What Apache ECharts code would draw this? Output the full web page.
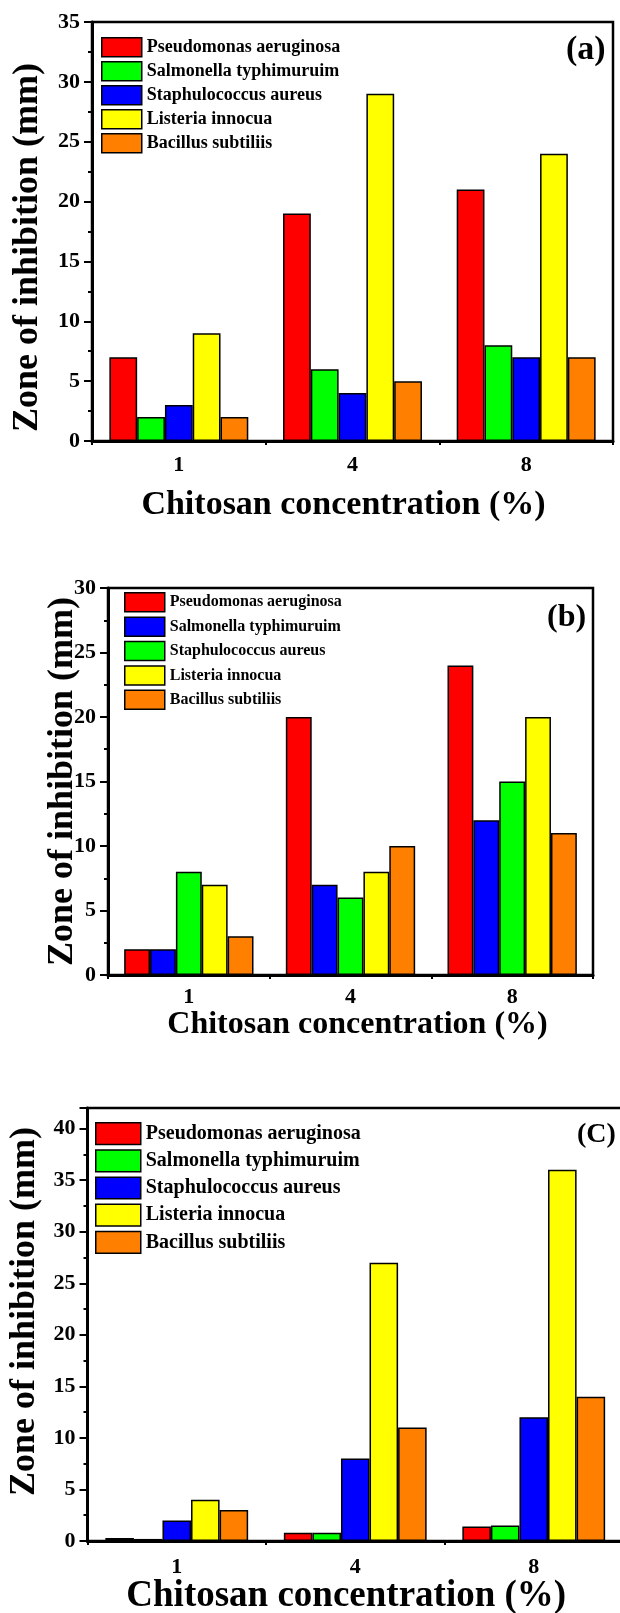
<!DOCTYPE html>
<html><head><meta charset="utf-8">
<script src="https://cdn.jsdelivr.net/npm/echarts@6/dist/echarts.min.js"></script>
<style>
body{margin:0;background:#fff;width:620px;height:1613px;position:relative;overflow:hidden}
.p{position:absolute;left:0;width:620px}
</style></head>
<body>
<div id="pa" class="p" style="top:0;height:540px"></div>
<div id="pb" class="p" style="top:540px;height:520px"></div>
<div id="pc" class="p" style="top:1060px;height:553px"></div>
<script>
// ---------- data ----------
const categories = ['1', '4', '8'];
const xTitle = 'Chitosan concentration (%)';
const yTitle = 'Zone of inhibition (mm)';
const RED = '#FF0000', GREEN = '#00FF00', BLUE = '#0000FF', YELLOW = '#FFFF00', ORANGE = '#FF8000';

// panel (a)
const namesA = ['Pseudomonas aeruginosa', 'Salmonella typhimuruim', 'Staphulococcus aureus', 'Listeria innocua', 'Bacillus subtiliis'];
const colorsA = [RED, GREEN, BLUE, YELLOW, ORANGE];
const a_Pseudomonas = [7, 19, 21];
const a_Salmonella = [2, 6, 8];
const a_Staphulococcus = [3, 4, 7];
const a_Listeria = [9, 29, 24];
const a_Bacillus = [2, 5, 7];
const yMaxA = 35;

// panel (b)
const namesB = ['Pseudomonas aeruginosa', 'Salmonella typhimuruim', 'Staphulococcus aureus', 'Listeria innocua', 'Bacillus subtiliis'];
const colorsB = [RED, BLUE, GREEN, YELLOW, ORANGE];
const b_Pseudomonas = [2, 20, 24];
const b_Salmonella = [2, 7, 12];
const b_Staphulococcus = [8, 6, 15];
const b_Listeria = [7, 8, 20];
const b_Bacillus = [3, 10, 11];
const yMaxB = 30;

// panel (c)
const namesC = ['Pseudomonas aeruginosa', 'Salmonella typhimuruim', 'Staphulococcus aureus', 'Listeria innocua', 'Bacillus subtiliis'];
const colorsC = [RED, GREEN, BLUE, YELLOW, ORANGE];
const c_Pseudomonas = [0.3, 0.8, 1.4];
const c_Salmonella = [0.2, 0.8, 1.5];
const c_Staphulococcus = [2, 8, 12];
const c_Listeria = [4, 27, 36];
const c_Bacillus = [3, 11, 14];
const yMaxC = 42;

const yInterval = 5;

// ---------- drawing ----------
const FONT = "'Liberation Serif','Times New Roman',serif";

function panel(id, o) {
  const chart = echarts.init(document.getElementById(id), null, { renderer: 'canvas' });
  const txt = (size, extra) => Object.assign({ fontFamily: FONT, fontWeight: 'bold', fontSize: size, color: '#000' }, extra || {});
  chart.setOption({
    animation: false,
    backgroundColor: '#fff',
    title: {
      text: o.tag, left: o.tagX, top: o.tagY, padding: 0,
      textStyle: txt(o.tagSize)
    },
    legend: {
      orient: 'vertical', left: o.legX, top: o.legY, padding: 0,
      icon: 'rect',
      itemWidth: o.legW, itemHeight: o.legH, itemGap: o.legGap,
      data: o.names,
      textStyle: txt(o.legFont),
      itemStyle: { borderColor: '#000', borderWidth: 1.5 }
    },
    grid: {
      left: o.grid[0], right: o.grid[1], top: o.grid[2], bottom: o.grid[3],
      outerBoundsMode: 'none', containLabel: false,
      show: true, borderColor: '#000', borderWidth: 2.5, backgroundColor: 'transparent'
    },
    xAxis: [{
      type: 'category', data: categories, position: 'bottom',
      axisLine: { lineStyle: { color: '#000', width: 3 } },
      axisTick: { alignWithLabel: true, length: 8, lineStyle: { color: '#000', width: 2 } },
      axisLabel: txt(o.tickFont, { margin: o.xLabelMargin }),
      name: xTitle, nameLocation: 'middle', nameGap: o.xNameGap,
      nameMoveOverlap: false,
      nameTextStyle: txt(o.xNameFont, { padding: o.xNamePad })
    }, {
      type: 'category', data: categories, position: 'bottom',
      axisLine: { show: false },
      axisTick: { show: true, length: 4, lineStyle: { color: '#000', width: 2 } },
      axisLabel: { show: false }
    }],
    yAxis: {
      type: 'value', min: 0, max: o.yMax, interval: yInterval,
      axisLine: { show: true, lineStyle: { color: '#000', width: 3 } },
      axisTick: { show: true, length: 8, lineStyle: { color: '#000', width: 2 } },
      minorTick: { show: true, splitNumber: 2, length: 4, lineStyle: { color: '#000', width: 2 } },
      splitLine: { show: false },
      axisLabel: txt(o.tickFont, { margin: o.yLabelMargin, showMaxLabel: o.showMax }),
      name: yTitle, nameLocation: 'middle', nameGap: o.yNameGap, nameRotate: 90,
      nameMoveOverlap: false,
      nameTextStyle: txt(o.yNameFont, { padding: o.yNamePad })
    },
    series: o.names.map((n, i) => ({
      type: 'bar', name: n, data: o.data[i], xAxisIndex: 0,
      barGap: '0%', barCategoryGap: '20%',
      itemStyle: { color: o.colors[i], borderColor: '#000', borderWidth: 1.5 }
    }))
  });
}

panel('pa', {
  tag: '(a)', tagX: 566, tagY: 33, tagSize: 34,
  names: namesA, colors: colorsA,
  data: [a_Pseudomonas, a_Salmonella, a_Staphulococcus, a_Listeria, a_Bacillus],
  yMax: yMaxA, showMax: true,
  grid: [92, 7, 22, 99],
  legX: 101, legY: 37, legW: 40, legH: 19, legGap: 3.5, legFont: 18,
  tickFont: 22, xLabelMargin: 13, yLabelMargin: 12,
  xNameGap: 47, xNameFont: 34, xNamePad: [0, 18, 0, 0],
  yNameGap: 46, yNameFont: 36, yNamePad: [0, 32, 0, 0]
});

panel('pb', {
  tag: '(b)', tagX: 547, tagY: 62, tagSize: 32,
  names: namesB, colors: colorsB,
  data: [b_Pseudomonas, b_Salmonella, b_Staphulococcus, b_Listeria, b_Bacillus],
  yMax: yMaxB, showMax: true,
  grid: [108, 27, 48, 85],
  legX: 124, legY: 52, legW: 40, legH: 19, legGap: 3.9, legFont: 16,
  tickFont: 22, xLabelMargin: 11, yLabelMargin: 12,
  xNameGap: 34, xNameFont: 32, xNamePad: [0, 0, 0, 14],
  yNameGap: 27, yNameFont: 36, yNamePad: [0, 0, 0, 0]
});

panel('pc', {
  tag: '(C)', tagX: 577, tagY: 61, tagSize: 28,
  names: namesC, colors: colorsC,
  data: [c_Pseudomonas, c_Salmonella, c_Staphulococcus, c_Listeria, c_Bacillus],
  yMax: yMaxC, showMax: false,
  grid: [87.5, -3, 48, 72],
  legX: 95, legY: 62, legW: 45, legH: 21.7, legGap: 4, legFont: 20,
  tickFont: 22, xLabelMargin: 15, yLabelMargin: 12,
  xNameGap: 37, xNameFont: 37, xNamePad: [0, 18, 0, 0],
  yNameGap: 45, yNameFont: 36, yNamePad: [0, 0, 0, 26]
});
</script>
</body></html>
